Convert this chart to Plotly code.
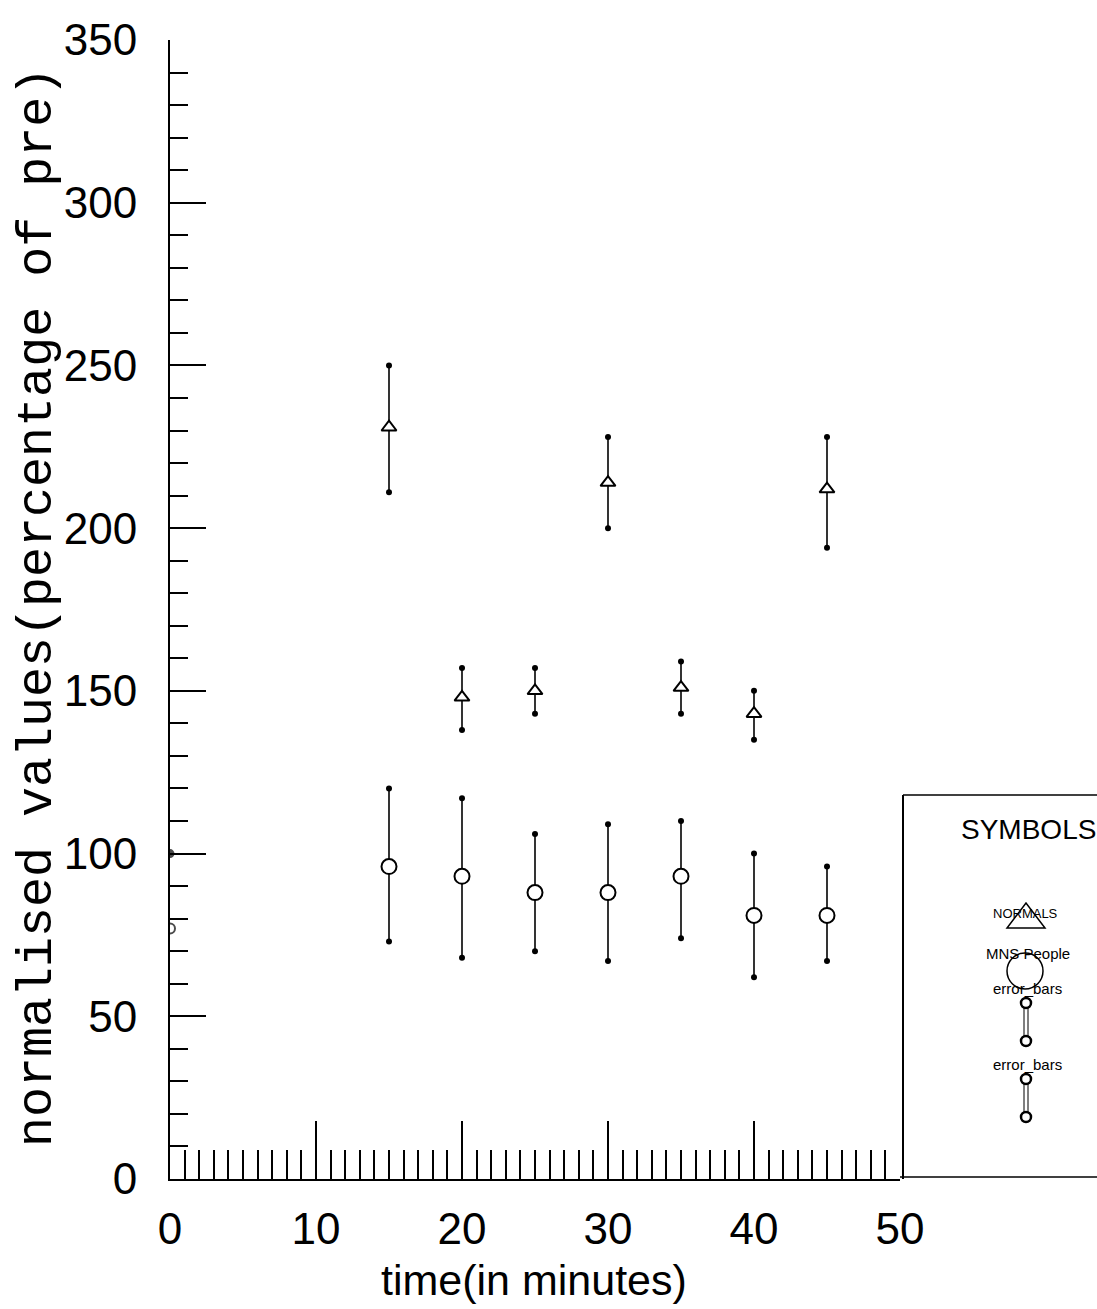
import plotly.graph_objects as go

# ---------------- data ----------------
time_points = [15, 20, 25, 30, 35, 40, 45]

normals_mean = [231, 148, 150, 214, 151, 143, 212]
normals_upper = [250, 157, 157, 228, 159, 150, 228]
normals_lower = [211, 138, 143, 200, 143, 135, 194]

mns_mean = [96, 93, 88, 88, 93, 81, 81]
mns_upper = [120, 117, 106, 109, 110, 100, 96]
mns_lower = [73, 68, 70, 67, 74, 62, 67]

baseline_time = [0, 0]
baseline_values = [100, 77]

x_ticks = [0, 10, 20, 30, 40, 50]
y_ticks = [0, 50, 100, 150, 200, 250, 300, 350]

# ---------------- layout geometry ----------------
W, H = 1097, 1309
L, R, T, B = 170, 197, 40, 130
PW = W - L - R
PH = H - T - B

def px(xp):
    return (xp - L) / PW

def py(yp):
    return (H - B - yp) / PH

SANS = "Liberation Sans, Arial, sans-serif"

fig = go.Figure()

def add_series(xs, mean, upper, lower, symbol, size):
    fig.add_trace(go.Scatter(
        x=xs, y=mean, mode="markers",
        marker=dict(symbol=symbol, size=size, color="white",
                    line=dict(color="black", width=2)),
        error_y=dict(type="data", symmetric=False,
                     array=[u - m for u, m in zip(upper, mean)],
                     arrayminus=[m - l for m, l in zip(mean, lower)],
                     width=0, thickness=1.6, color="black"),
        showlegend=False, hoverinfo="skip"))
    fig.add_trace(go.Scatter(
        x=xs + xs, y=upper + lower, mode="markers",
        marker=dict(symbol="circle", size=6, color="black"),
        showlegend=False, hoverinfo="skip"))

add_series(time_points, normals_mean, normals_upper, normals_lower, "triangle-up", 13)
add_series(time_points, mns_mean, mns_upper, mns_lower, "circle", 15)

fig.add_trace(go.Scatter(
    x=baseline_time, y=baseline_values, mode="markers",
    marker=dict(symbol=["circle", "circle-open"], size=[7, 10], color="black",
                line=dict(color="black", width=2)),
    showlegend=False, hoverinfo="skip"))

# ---------------- legend box ----------------
shapes = []
shapes.append(dict(type="line", xref="paper", yref="paper",
                   x0=px(903), x1=px(903), y0=py(1179), y1=py(795),
                   line=dict(color="black", width=2)))
shapes.append(dict(type="line", xref="paper", yref="paper",
                   x0=px(903), x1=px(1097), y0=py(795), y1=py(795),
                   line=dict(color="black", width=1.5)))
shapes.append(dict(type="line", xref="paper", yref="paper",
                   x0=px(900), x1=px(1097), y0=py(1177), y1=py(1177),
                   line=dict(color="black", width=1.5)))
# triangle symbol
tri = "M {} {} L {} {} L {} {} Z".format(px(1007), py(928), px(1045), py(928), px(1026), py(903))
shapes.append(dict(type="path", xref="paper", yref="paper", path=tri,
                   line=dict(color="black", width=1.5)))
# circle symbol
shapes.append(dict(type="circle", xref="paper", yref="paper",
                   x0=px(1007), x1=px(1043), y0=py(989), y1=py(953),
                   line=dict(color="black", width=1.5)))
# error bar symbols
for top, bot in [(1003, 1041), (1079, 1117)]:
    for dx in (-2, 2):
        shapes.append(dict(type="line", xref="paper", yref="paper",
                           x0=px(1026 + dx), x1=px(1026 + dx), y0=py(top), y1=py(bot),
                           line=dict(color="black", width=1)))
    for yc in (top, bot):
        shapes.append(dict(type="circle", xref="paper", yref="paper",
                           x0=px(1021), x1=px(1031), y0=py(yc + 5), y1=py(yc - 5),
                           fillcolor="white", line=dict(color="black", width=2.5)))

annotations = [
    dict(text="SYMBOLS", x=px(1028), y=py(830), xref="paper", yref="paper",
         showarrow=False, xanchor="center", yanchor="middle",
         font=dict(family=SANS, size=28, color="black")),
    dict(text="NORMALS", x=px(1025), y=py(913), xref="paper", yref="paper",
         showarrow=False, xanchor="center", yanchor="middle",
         font=dict(family=SANS, size=13, color="black")),
    dict(text="MNS People", x=px(1028), y=py(953), xref="paper", yref="paper",
         showarrow=False, xanchor="center", yanchor="middle",
         font=dict(family=SANS, size=15, color="black")),
    dict(text="error_bars", x=px(1027), y=py(989), xref="paper", yref="paper",
         showarrow=False, xanchor="center", yanchor="middle",
         font=dict(family=SANS, size=15, color="black")),
    dict(text="error_bars", x=px(1027), y=py(1064), xref="paper", yref="paper",
         showarrow=False, xanchor="center", yanchor="middle",
         font=dict(family=SANS, size=15, color="black")),
    dict(text="normalised values(percentage of pre)", x=px(37), y=py(607),
         xref="paper", yref="paper", showarrow=False, textangle=-90,
         xanchor="center", yanchor="middle",
         font=dict(family="Liberation Mono, DejaVu Sans Mono, monospace", size=50, color="black")),
    dict(text="time(in minutes)", x=px(534), y=py(1280), xref="paper", yref="paper",
         showarrow=False, xanchor="center", yanchor="middle",
         font=dict(family=SANS, size=43, color="black")),
]

fig.update_layout(
    width=W, height=H,
    margin=dict(l=L, r=R, t=T, b=B, pad=0),
    paper_bgcolor="white", plot_bgcolor="white",
    shapes=shapes, annotations=annotations,
    showlegend=False,
    xaxis=dict(range=[0, 50], tickvals=x_ticks, ticktext=[str(v) for v in x_ticks],
               ticks="inside", ticklen=58, tickwidth=1.5, tickcolor="black",
               minor=dict(dtick=1, ticks="inside", ticklen=29, tickwidth=1.5, tickcolor="black"),
               showline=True, linecolor="black", linewidth=2,
               showgrid=False, zeroline=False, ticklabelstandoff=10,
               tickfont=dict(family=SANS, size=44, color="black")),
    yaxis=dict(range=[0, 350], tickvals=y_ticks, ticktext=[str(v) for v in y_ticks],
               ticks="inside", ticklen=36, tickwidth=1.5, tickcolor="black",
               minor=dict(dtick=10, ticks="inside", ticklen=18, tickwidth=1.5, tickcolor="black"),
               showline=True, linecolor="black", linewidth=2,
               showgrid=False, zeroline=False, ticklabelstandoff=22,
               tickfont=dict(family=SANS, size=44, color="black")),
)

fig.write_html("out.html", config={"displayModeBar": False},
               post_script="document.body.style.margin='0';")
